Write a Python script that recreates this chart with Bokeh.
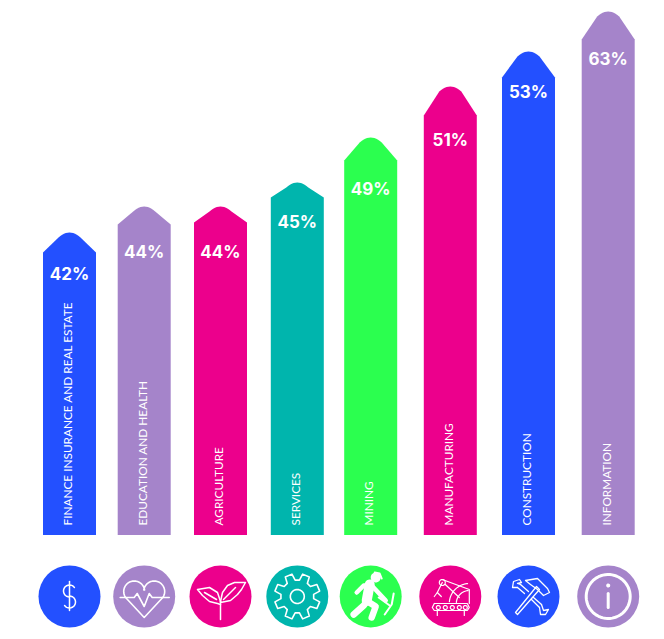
from bokeh.embed import file_html
from bokeh.models import Range1d
from bokeh.plotting import figure
from bokeh.resources import INLINE
from bokeh.core.properties import value
import numpy as np

categories = ["FINANCE INSURANCE AND REAL ESTATE", "EDUCATION AND HEALTH", "AGRICULTURE", "SERVICES",
              "MINING", "MANUFACTURING", "CONSTRUCTION", "INFORMATION"]
percents = [42, 44, 44, 45, 49, 51, 53, 63]
heights = [302.5, 328.5, 328.5, 352.5, 397.5, 448.5, 483.5, 523.5]
shoulders = [20, 18, 16, 15, 23, 29, 26, 28]
label_heights = [261, 283, 283, 313, 346, 395, 443, 476]
centers = [69, 143.7, 220, 296.8, 370.2, 449.8, 528, 607.7]
colors = ["#2350FF", "#A584CA", "#EC008C", "#00B5AD", "#2BFF4F", "#EC008C", "#2350FF", "#A584CA"]

HALF = 26.5
p = figure(width=648, height=635, x_range=Range1d(0, 648), y_range=Range1d(-100.5, 534.5),
           output_backend="svg", toolbar_location=None, x_axis_type=None, y_axis_type=None,
           min_border=0, outline_line_color=None)
p.grid.visible = False


def bar(cx, h, s):
    xs = [cx - HALF, cx - HALF]
    ys = [0, h - s]
    for t in np.linspace(0, 1, 13):
        x0, y0, x1, y1, x2, y2 = cx - 11, h - 5, cx, h + 5, cx + 11, h - 5
        xs.append((1 - t) ** 2 * x0 + 2 * t * (1 - t) * x1 + t * t * x2)
        ys.append((1 - t) ** 2 * y0 + 2 * t * (1 - t) * y1 + t * t * y2)
    xs += [cx + HALF, cx + HALF]
    ys += [h - s, 0]
    return xs, ys


shapes = [bar(c, h, s) for c, h, s in zip(centers, heights, shoulders)]
p.patches([s[0] for s in shapes], [s[1] for s in shapes], fill_color=colors, line_color=None)

p.text(centers, label_heights, text=[f"{v}%" for v in percents],
       text_font=value("Inter"), text_font_style="bold", text_font_size="17px", text_color="white",
       text_align="center", text_baseline="middle")
p.text([c - 2 for c in centers], [9.5] * 8, text=categories, angle=np.pi / 2,
       text_font=value("Lato"), text_font_size="11.8px", text_color="white",
       text_align="left", text_baseline="middle")

CY = -61.5
p.scatter(centers, [CY] * 8, size=62, fill_color=colors, line_color=None)

W = dict(line_color="white", line_cap="round", line_join="round")


def lines(i, segs, w=1.5):
    cx = centers[i]
    p.multi_line([[cx + a for a, _ in s] for s in segs], [[CY - b for _, b in s] for s in segs], line_width=w, **W)


def arc(cx0, cy0, r, a0, a1, n=24):
    return [(cx0 + r * np.cos(t), cy0 + r * np.sin(t)) for t in np.radians(np.linspace(a0, a1, n))]


# dollar
lines(0, [arc(0, -5.5, 6, -35, -270, 18) + arc(0, 5.5, 6, -90, 145, 18), [(0, -15), (0, 14)]], 1.5)
# heart with pulse
lines(1, [[(-24, 1), (-10, 1), (-7, -3), (0, 10), (5, -3), (8, 1), (25, 1)],
          arc(-10, -5, 10.5, 145, 352) + arc(10, -5, 10.5, 188, 395) + [(0, 21), (-18.6, 1)]], 1.6)
# sprout
lines(2, [[(0, 5), (0, 23)],
          [(0, 5), (2, -4), (7, -11), (14, -14), (25, -14), (21, -7), (17, -2), (10, 4), (0, 6)],
          [(0, 5), (-3, -4), (-11, -9), (-23, -7), (-18, -1), (-11, 5), (-3, 7), (0, 8)],
          [(-16, -4), (-4, 3)], [(3, 3), (15, -9)]], 1.5)
# gear
teeth = []
for k in range(8):
    a = k * 45 + 22.5
    for da, r in [(-15, 16.5), (-9, 23), (9, 23), (15, 16.5)]:
        t = np.radians(a + da)
        teeth.append((r * np.cos(t), r * np.sin(t)))
lines(3, [teeth + teeth[:1], arc(0, 0, 7, 0, 360)], 1.6)
# miner
lines(4, [[(-14, -4), (-7, -11), (1, -11), (15, 4)]], 4.5)
lines(4, [[(-1, -12), (-4, 4)]], 10)
lines(4, [[(-4, 5), (-7, 9), (-17, 18)], [(-3, 5), (5, 10), (1, 21)]], 6.5)
lines(4, [[(8, 1), (19, 9)], [(14, 18), (21, 8), (23, -3)]], 2)
lines(4, [arc(5, -19, 2.5, 0, 360)], 5)
lines(4, [[(4, -24), (9, -23), (11, -18)]], 2)
# factory
lines(5, [[(-16, 7), (17, 7), (19, 11), (17, 14), (-16, 14), (-18, 11), (-16, 7)],
          [(-13, 14), (-13, 19)], [(14, 14), (14, 19)],
          [(-8, -14), (-13, -4)], [(-8, -17), (19, -7), (19, 7)], [(-5, -12), (9, 1)],
          arc(-8, -14, 3, 0, 360), arc(-12, 11, 2, 0, 360), arc(-5, 11, 2, 0, 360),
          arc(2, 11, 2, 0, 360), arc(9, 11, 2, 0, 360), arc(15, 11, 2, 0, 360),
          arc(19, 7, 20, 185, 265), arc(19, 7, 13, 185, 265),
          [(-16, 0), (-13, -4), (-9, 0)]], 1.2)
# tools
lines(6, [[(-13, 16), (-11, 18), (11, -7), (8, -10), (-13, 16)],
          [(2, -12), (-3, -16), (9, -18), (19, -8), (21, -4), (15, -1), (9, -7), (2, -12)],
          [(-11, -9), (-4, -3)], [(3, 3), (11, 11)], [(-8, -12), (0, -5)], [(5, 1), (13, 8)],
          [(-11, -9), (-16, -9), (-15, -15), (-9, -17), (-7, -14), (-11, -13), (-8, -12)],
          [(11, 11), (12, 18), (17, 18), (20, 13), (15, 14), (14, 11), (13, 8)]], 1.3)
# info
lines(7, [arc(0, 0, 22, 0, 360, 60)], 3)
lines(7, [[(0, -3), (0, 11)]], 3)
lines(7, [arc(0, -11, 0.8, 0, 360, 10)], 2.5)

open("out.html", "w").write(file_html(p, INLINE))
